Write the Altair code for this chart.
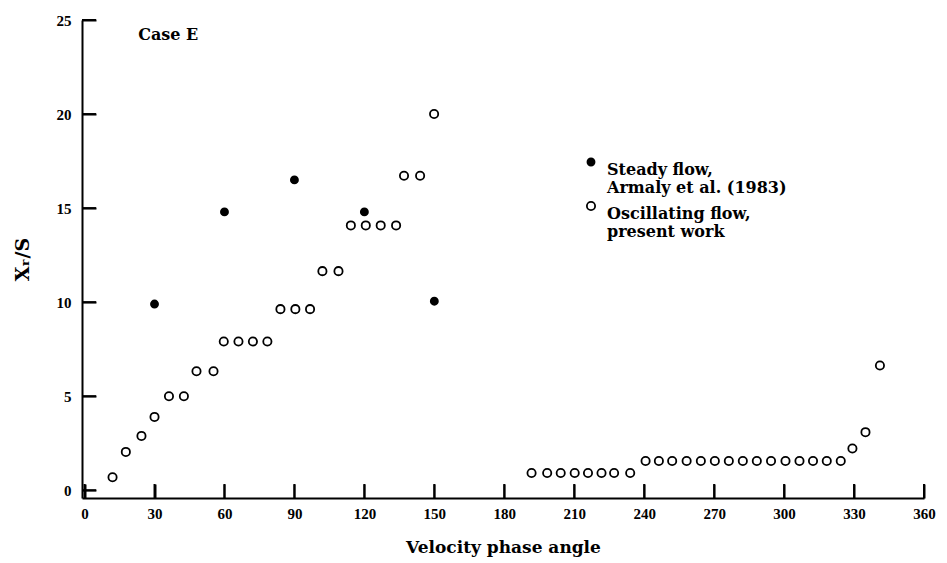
import altair as alt
import pandas as pd

# ---- data ----
steady_x = [30, 60, 90, 120, 150]
steady_y = [9.9, 14.8, 16.5, 14.8, 10.05]

osc_x = [12.0, 17.7, 24.4, 30.0, 36.2, 42.6, 48.0, 55.3, 59.7, 66.0, 72.2, 78.4,
         84.0, 90.4, 96.7, 102.0, 108.9, 114.2, 120.6, 127.0, 133.6, 137.0, 143.9, 149.9,
         191.7, 198.4, 204.2, 210.2, 215.9, 221.7, 227.1, 234.0,
         240.6, 246.3, 252.0, 258.2, 264.3, 270.3, 276.3, 282.3, 288.3, 294.4, 300.6,
         306.6, 312.4, 318.3, 324.3,
         329.3, 334.9, 341.1]
osc_y = [0.69, 2.04, 2.89, 3.9, 5.0, 5.0, 6.33, 6.33, 7.91, 7.91, 7.91, 7.91,
         9.63, 9.63, 9.63, 11.65, 11.65, 14.08, 14.08, 14.08, 14.08, 16.72, 16.72, 20.0,
         0.92, 0.92, 0.92, 0.92, 0.92, 0.92, 0.92, 0.92,
         1.56, 1.56, 1.56, 1.56, 1.56, 1.56, 1.56, 1.56, 1.56, 1.56, 1.56,
         1.56, 1.56, 1.56, 1.56,
         2.22, 3.09, 6.63]

series_names = ["Steady flow,|Armaly et al. (1983)", "Oscillating flow,|present work"]
x_ticks = [0, 30, 60, 90, 120, 150, 180, 210, 240, 270, 300, 330, 360]
y_ticks = [0, 5, 10, 15, 20, 25]
x_domain = [-1.1, 360]
y_domain = [-0.41, 25]
annotation = ["Case E"]
annotation_pos = [23, 24.2]

W, H = 842, 478
TICK_PX = 14

df = pd.concat([
    pd.DataFrame({"angle": steady_x, "xr": steady_y, "series": series_names[0]}),
    pd.DataFrame({"angle": osc_x, "xr": osc_y, "series": series_names[1]}),
], ignore_index=True)

# inward tick marks: short rules starting on the axis lines, length converted from pixels
y_len = TICK_PX * (y_domain[1] - y_domain[0]) / H
x_len = TICK_PX * (x_domain[1] - x_domain[0]) / W
xtick_df = pd.DataFrame({"angle": x_ticks, "xr": [y_domain[0]] * len(x_ticks),
                         "xr2": [y_domain[0] + y_len] * len(x_ticks)})
ytick_df = pd.DataFrame({"xr": y_ticks, "angle": [x_domain[0]] * len(y_ticks),
                         "angle2": [x_domain[0] + x_len] * len(y_ticks)})

LABEL_FONT = "Liberation Serif"
TEXT_FONT = "DejaVu Serif"

xscale = alt.Scale(domain=x_domain, nice=False, zero=False)
yscale = alt.Scale(domain=y_domain, nice=False, zero=False)

x_axis = alt.Axis(values=x_ticks, title="Velocity phase angle", format="d", orient="bottom")
y_axis = alt.Axis(values=y_ticks, title="Xᵣ/S", format="d", orient="left")
x_tick_axis = alt.Axis(values=x_ticks, orient="bottom", offset=-TICK_PX, ticks=True, tickSize=TICK_PX,
                       tickWidth=2, tickColor="black", domain=False, labels=False, title=None,
                       grid=False)
y_tick_axis = alt.Axis(values=y_ticks, orient="left", offset=-TICK_PX, ticks=True, tickSize=TICK_PX,
                       tickWidth=2, tickColor="black", domain=False, labels=False, title=None,
                       grid=False)

X = alt.X("angle:Q", scale=xscale, axis=x_axis)
Y = alt.Y("xr:Q", scale=yscale, axis=y_axis)

legend = alt.Legend(title=None, orient="none", legendX=501, legendY=134,
                    labelExpr="split(datum.label, '|')",
                    symbolStrokeColor="black", symbolStrokeWidth=1.8)

points = alt.Chart(df).mark_point(shape="circle", strokeWidth=1.8, opacity=1).encode(
    x=X, y=Y,
    fill=alt.Fill("series:N", scale=alt.Scale(domain=series_names, range=["black", "white"]),
                  legend=legend),
    stroke=alt.Stroke("series:N", scale=alt.Scale(domain=series_names, range=["black", "black"]),
                      legend=legend),
    size=alt.Size("series:N", scale=alt.Scale(domain=series_names, range=[50, 68]),
                  legend=legend),
)

xrules = alt.Chart(xtick_df).mark_rule(color="black", strokeWidth=2, opacity=1).encode(
    x=X, y=Y, y2="xr2:Q"
)
yrules = alt.Chart(ytick_df).mark_rule(color="black", strokeWidth=2, opacity=1).encode(
    x=X, y=Y, x2="angle2:Q"
)

case_txt = alt.Chart(pd.DataFrame({"angle": [annotation_pos[0]], "xr": [annotation_pos[1]], "t": annotation})).mark_text(
    align="left", baseline="middle", font=TEXT_FONT, fontWeight="bold", fontSize=16, color="black"
).encode(
    x=alt.X("angle:Q", scale=xscale, axis=x_tick_axis),
    y=alt.Y("xr:Q", scale=yscale, axis=y_tick_axis),
    text="t:N",
)

chart = alt.layer(alt.layer(xrules, yrules, points), case_txt).resolve_axis(
    x="independent", y="independent"
).properties(
    width=W, height=H,
    autosize=alt.AutoSizeParams(type="none"),
    padding={"left": 82, "top": 20, "right": 23, "bottom": 65},
    background="white",
).configure_view(stroke=None).configure_axis(
    grid=False, ticks=False, tickSize=0,
    domainColor="black", domainWidth=2,
    labelFont=LABEL_FONT, labelFontWeight="bold", labelFontSize=15, labelColor="black",
    labelFlush=False, labelOverlap=False,
    titleFont=TEXT_FONT, titleFontWeight="bold", titleColor="black",
).configure_axisX(
    labelPadding=8, titleFontSize=17, titlePadding=18,
).configure_axisY(
    labelPadding=11, titleFontSize=19, titlePadding=24,
).configure_legend(
    labelFont=TEXT_FONT, labelFontWeight="bold", labelFontSize=16, labelColor="black",
    labelBaseline="top", labelOffset=8, padding=0, rowPadding=2,
    symbolType="circle", labelLimit=400,
)

chart.save("out.html", embed_options={"renderer": "svg", "actions": False})
